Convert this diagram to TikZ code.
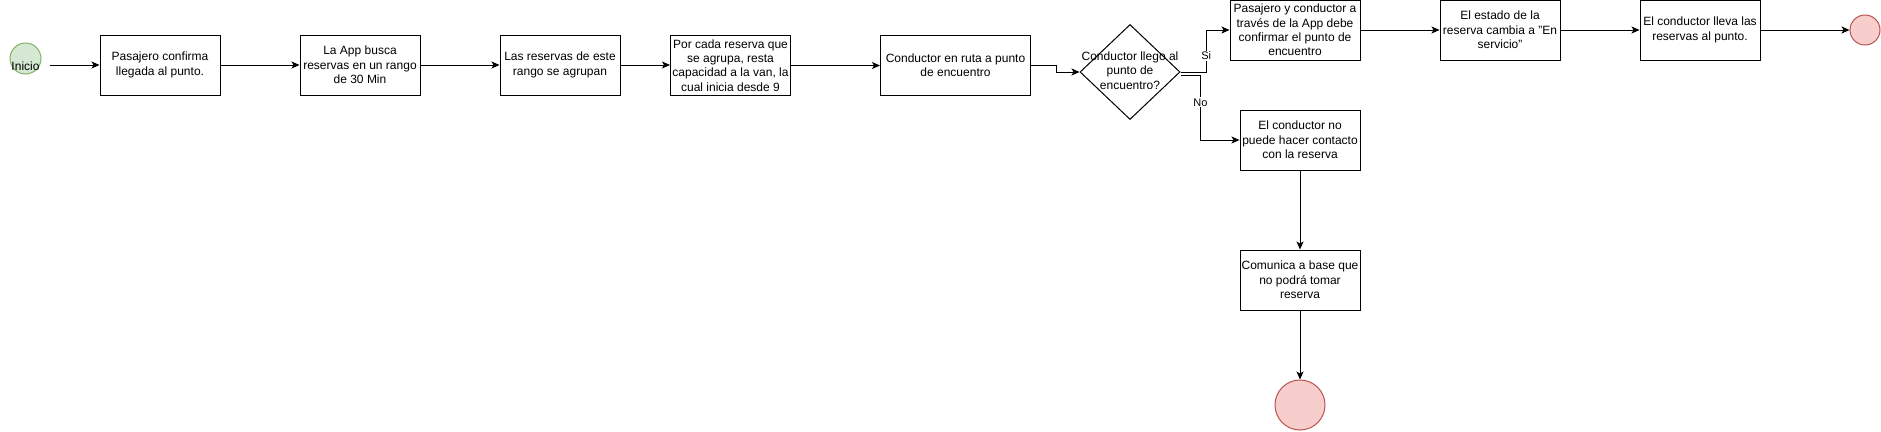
\documentclass[tikz,border=0pt]{standalone}
\usepackage{fontspec}
\setmainfont{Liberation Sans}
\usetikzlibrary{arrows.meta,shapes.geometric,calc}
\definecolor{startfill}{HTML}{D5E8D4}
\definecolor{startline}{HTML}{82B366}
\definecolor{endfill}{HTML}{F8CECC}
\definecolor{endline}{HTML}{B85450}
\begin{document}
\begin{tikzpicture}[x=1pt,y=-1pt,
  every node/.style={font=\fontsize{12}{14.4}\selectfont, inner sep=0pt},
  stepbox/.style={draw, line width=1pt, fill=white, minimum height=60pt, align=center},
  flow/.style={line width=1pt, -{Stealth[length=8pt,width=7pt,inset=2pt]}},
  startc/.style={circle, draw=startline, fill=startfill, line width=1pt, minimum size=31pt},
  endc/.style={circle, draw=endline, fill=endfill, line width=1pt},
  elabel/.style={fill=white, font=\fontsize{11}{13}\selectfont, inner sep=1pt}
]
\useasboundingbox (0,0) rectangle (1881,431);

% start
\node[startc] (st) at (25.5,58.5) {};
\node (sttext) at (25.5,66) {Inicio};
\coordinate (s0) at (50,65);

% main row
\node[stepbox, minimum width=120pt] (b1) at (160,65) {Pasajero confirma\\llegada al punto.};
\node[stepbox, minimum width=120pt] (b2) at (360,65) {La App busca\\reservas en un rango\\de 30 Min};
\node[stepbox, minimum width=120pt] (b3) at (560,65) {Las reservas de este\\rango se agrupan};
\node[stepbox, minimum width=120pt] (b4) at (730.5,65.5) {Por cada reserva que\\se agrupa, resta\\capacidad a la van, la\\cual inicia desde 9};
\node[stepbox, minimum width=150pt] (b5) at (955.5,65) {Conductor en ruta a punto\\de encuentro};

% decision
\node[diamond, draw, line width=1pt, fill=white, minimum width=100pt, minimum height=95pt] (d) at (1130,72) {};
\node[align=center] (dtext) at (1130,70.5) {Conductor llego al\\punto de\\encuentro?};

% upper branch
\node[stepbox, minimum width=130pt] (b6) at (1295,30) {Pasajero y conductor a\\través de la App debe\\confirmar el punto de\\encuentro};
\node[stepbox, minimum width=120pt] (b7) at (1500,30) {El estado de la\\reserva cambia a "En\\servicio"};
\node[stepbox, minimum width=120pt] (b8) at (1700,30) {El conductor lleva las\\reservas al punto.};
\node[endc, minimum size=30pt] (e1) at (1865,30) {};

% lower branch
\node[stepbox, minimum width=120pt] (b9) at (1300,140) {El conductor no\\puede hacer contacto\\con la reserva};
\node[stepbox, minimum width=120pt] (b10) at (1300,280) {Comunica a base que\\no podrá tomar\\reserva};
\node[endc, minimum size=50pt] (e2) at (1300,405) {};

% connectors
\draw[flow] (s0) -- (b1.west);
\draw[flow] (b1) -- (b2);
\draw[flow] (b2) -- (b3);
\draw[flow] (b3.east) -- (b4.west |- b3.east);
\draw[flow] (b4.east) -- (b5.west |- b4.east);
\draw[flow] (b5.east) -- ++(25.5,0) |- (d.west);
\draw[flow] (d.east) -- ++(25.7,0) |- node[elabel, pos=0.19] {Si} (b6.west);
\draw[flow] ($(d.east)+(0,3)$) -- ++(20,0) |- node[elabel, pos=0.21] {No} (b9.west);
\draw[flow] (b6) -- (b7);
\draw[flow] (b7) -- (b8);
\draw[flow] (b8) -- (e1);
\draw[flow] (b9) -- (b10);
\draw[flow] (b10) -- (e2);
\end{tikzpicture}
\end{document}
